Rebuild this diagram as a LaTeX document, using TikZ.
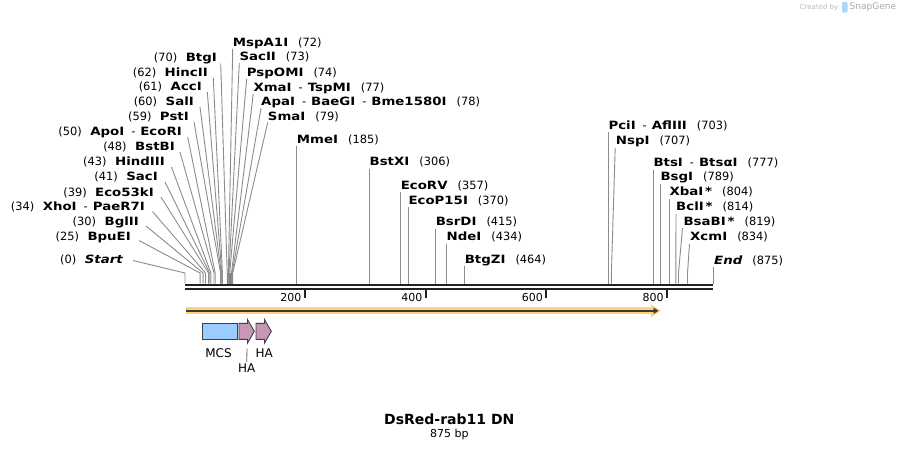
\documentclass[tikz,border=0pt]{standalone}
\usepackage{fontspec}
\setmainfont{DejaVu Sans}
\newfontfamily\bfenz{DejaVu Sans}[FakeStretch=1.17]
\usetikzlibrary{arrows.meta}
\definecolor{seqc}{HTML}{222222}
\definecolor{conncol}{HTML}{8C8C8C}
\definecolor{orfc}{HTML}{FFD27A}
\definecolor{orfline}{HTML}{3A3A3A}
\definecolor{mcsc}{HTML}{9ACCFF}
\definecolor{hac}{HTML}{C996B8}
\definecolor{wmc}{HTML}{BDBDBD}
\definecolor{wmlogo}{HTML}{A6D8F7}
\newcommand{\eb}[1]{{\bfenz\bfseries #1}}
\newcommand{\ebi}[1]{{\bfenz\bfseries\itshape #1}}
\newcommand{\dsep}{\hspace{7pt}-\hspace{5pt}}
\newcommand{\ngap}{\hspace{8.5pt}}
\newcommand{\rgap}{\hspace{10pt}}
\begin{document}
\begin{tikzpicture}[x=1pt,y=-1pt,
  lab/.style={inner sep=0pt, font=\fontsize{11.4}{13}\selectfont},
  labL/.style={lab, anchor=base east},
  labR/.style={lab, anchor=base west},
  conn/.style={draw=conncol, line width=0.9pt},
  tickmark/.style={draw=seqc, line width=2pt},
  ticklab/.style={inner sep=0pt, anchor=east, font=\fontsize{11}{13}\selectfont},
  feat/.style={draw=black!75, line width=0.9pt},
  flab/.style={inner sep=0pt, font=\fontsize{12}{14}\selectfont}
]
\useasboundingbox (0,0) rectangle (899,450);
\fill[white] (0,0) rectangle (899,450);

% sites: knee (k) and base (b)
\foreach \n/\x in {0/185,25/200.1,30/203.1,34/205.5,39/208.5,41/209.7,43/210.9,48/214,50/215.2,
  59/220.6,60/221.2,61/221.8,62/222.4,70/227.2,72/228.4,73/229.0,74/229.7,77/231.5,78/232.1,79/232.7,
  185/296.7,306/369.4,357/400.6,370/408.3,415/435.6,434/446.5,464/464.6,
  703/608.6,707/611.4,777/653.5,789/660.6,804/669.5,814/675.8,819/678.5,834/687.5,875/713}{
  \coordinate (k\n) at (\x,273);
  \coordinate (b\n) at (\x,283.5);
}

% left labels
\node[labL] (L70) at (217,61.3) {(70)\ngap\eb{BtgI}};
\node[labL] (L62) at (208,76.3) {(62)\ngap\eb{HincII}};
\node[labL] (L61) at (202,90.7) {(61)\ngap\eb{AccI}};
\node[labL] (L60) at (194,105.7) {(60)\ngap\eb{SalI}};
\node[labL] (L59) at (189,120.7) {(59)\ngap\eb{PstI}};
\node[labL] (L50) at (182,135.7) {(50)\ngap\eb{ApoI}\dsep\eb{EcoRI}};
\node[labL] (L48) at (175,150.7) {(48)\ngap\eb{BstBI}};
\node[labL] (L43) at (165,165.7) {(43)\ngap\eb{HindIII}};
\node[labL] (L41) at (158,180.7) {(41)\ngap\eb{SacI}};
\node[labL] (L39) at (154,196) {(39)\ngap\eb{Eco53kI}};
\node[labL] (L34) at (145,210.7) {(34)\ngap\eb{XhoI}\dsep\eb{PaeR7I}};
\node[labL] (L30) at (139,225.7) {(30)\ngap\eb{BglII}};
\node[labL] (L25) at (131,240.7) {(25)\ngap\eb{BpuEI}};
\node[labL] (L0) at (123,263.3) {(0)\ngap\ebi{Start}};

\coordinate (a70) at (220.7,63.5);
\coordinate (a62) at (213.3,78);
\coordinate (a61) at (207.3,92);
\coordinate (a60) at (200,107);
\coordinate (a59) at (194,122);
\coordinate (a50) at (187.7,137);
\coordinate (a48) at (180,152);
\coordinate (a43) at (171.5,167);
\coordinate (a41) at (165,182);
\coordinate (a39) at (161,197);
\coordinate (a34) at (152.5,211.5);
\coordinate (a30) at (146,226);
\coordinate (a25) at (139,240.5);
\coordinate (a0) at (133,260.5);

% top cluster labels
\node[labR] (L72) at (232.7,46.3) {\eb{MspA1I}\rgap(72)};
\node[labR] (L73) at (239.3,60.7) {\eb{SacII}\rgap(73)};
\node[labR] (L74) at (246.7,76.3) {\eb{PspOMI}\rgap(74)};
\node[labR] (L77) at (253.3,91.3) {\eb{XmaI}\dsep\eb{TspMI}\rgap(77)};
\node[labR] (L78) at (261,105.7) {\eb{ApaI}\dsep\eb{BaeGI}\dsep\eb{Bme1580I}\rgap(78)};
\node[labR] (L79) at (267.7,120) {\eb{SmaI}\rgap(79)};
\coordinate (a72) at (232.7,48.8);
\coordinate (a73) at (239.3,63.2);
\coordinate (a74) at (246.7,78.8);
\coordinate (a77) at (253.3,93.8);
\coordinate (a78) at (261,108.2);
\coordinate (a79) at (267.7,122.5);

% middle labels
\node[labR] (L185) at (296.7,143) {\eb{MmeI}\rgap(185)};
\node[labR] (L306) at (369.4,165.7) {\eb{BstXI}\rgap(306)};
\node[labR] (L357) at (400.6,189) {\eb{EcoRV}\rgap(357)};
\node[labR] (L370) at (408.3,204) {\eb{EcoP15I}\rgap(370)};
\node[labR] (L415) at (435.6,225.7) {\eb{BsrDI}\rgap(415)};
\node[labR] (L434) at (446.5,240.7) {\eb{NdeI}\rgap(434)};
\node[labR] (L464) at (464.6,263.3) {\eb{BtgZI}\rgap(464)};
\coordinate (a185) at (296.7,146);
\coordinate (a306) at (369.4,168.7);
\coordinate (a357) at (400.6,192);
\coordinate (a370) at (408.3,207);
\coordinate (a415) at (435.6,228.7);
\coordinate (a434) at (446.5,243.7);
\coordinate (a464) at (464.6,266.3);

% right labels
\node[labR] (L703) at (608.3,129) {\eb{PciI}\dsep\eb{AflIII}\rgap(703)};
\node[labR] (L707) at (615.7,144.7) {\eb{NspI}\rgap(707)};
\node[labR] (L777) at (653.3,166.3) {\eb{BtsI}\dsep\eb{BtsαI}\rgap(777)};
\node[labR] (L789) at (660.3,180.7) {\eb{BsgI}\rgap(789)};
\node[labR] (L804) at (669.3,195.7) {\eb{XbaI\,*}\rgap(804)};
\node[labR] (L814) at (676,210.7) {\eb{BclI\,*}\rgap(814)};
\node[labR] (L819) at (683.3,225) {\eb{BsaBI\,*}\rgap(819)};
\node[labR] (L834) at (690,240.7) {\eb{XcmI}\rgap(834)};
\node[labR] (L875) at (714,264) {\ebi{End}\hspace{10pt}(875)};
\coordinate (a703) at (608.6,132);
\coordinate (a707) at (615.2,148);
\coordinate (a777) at (653.5,169.5);
\coordinate (a789) at (660.6,184);
\coordinate (a804) at (669.5,199);
\coordinate (a814) at (676,214);
\coordinate (a819) at (682.5,228);
\coordinate (a834) at (689.5,244);
\coordinate (a875) at (713,267);

% connectors
\fill[conncol!90!black] (227.4,273) rectangle (233.2,283.5);
\foreach \n in {0,25,30,34,39,41,43,48,50,59,60,61,62,70,72,73,74,77,78,79,
  185,306,357,370,415,434,464,703,707,777,789,804,814,819,834,875}{
  \draw[conn] (a\n) -- (k\n) -- (b\n);
}

% sequence line
\coordinate (seqA) at (185,285);
\coordinate (seqB) at (713,285);
\draw[draw=seqc, line width=2.6pt] (seqA) -- (seqB);
\draw[draw=seqc, line width=2pt] ([yshift=-4.3pt]seqA) -- ([yshift=-4.3pt]seqB);

% ticks
\foreach \v/\x in {200/304.5,400/425.5,600/546,800/666.8}{
  \draw[tickmark] (\x,290) -- (\x,297.5);
  \node[ticklab] (t\v) at (\x-3,297) {\v};
}

% ORF arrow
\coordinate (orfA) at (186,310.8);
\coordinate (orfB) at (653,310.8);
\draw[draw=orfc, line width=7pt] (orfA) -- (orfB);
\fill[orfc] (651,304.5) -- (661,310.8) -- (651,317.1) -- cycle;
\draw[draw=orfline, line width=2.2pt, -{Triangle[length=5pt,width=6pt]}] (orfA) -- (658.5,310.8);

% features
\draw[feat, fill=mcsc] (202.3,323.3) rectangle (237.7,339.3);
\draw[feat, fill=hac] (239,323.3) -- (247.5,323.3) -- (247.5,319.5) -- (254.3,331.3) -- (247.5,343.1) -- (247.5,339.3) -- (239,339.3) -- cycle;
\draw[feat, fill=hac] (256,323.3) -- (264.5,323.3) -- (264.5,319.5) -- (271.3,331.3) -- (264.5,343.1) -- (264.5,339.3) -- (256,339.3) -- cycle;
\node[flab] (lmcs) at (218.5,352.7) {MCS};
\node[flab] (lha2) at (264.3,352.7) {HA};
\node[flab] (lha1) at (246.7,368.5) {HA};
\coordinate (ha1top) at (247,348.5);
\draw[draw=black!60, line width=0.8pt] (ha1top) -- ([yshift=1.5pt]lha1.north);

% title
\node[inner sep=0, font=\fontsize{14}{16}\selectfont\bfseries] (title) at (449.3,419) {DsRed-rab11 DN};
\node[inner sep=0, font=\fontsize{11}{13}\selectfont] (len) at (449.3,434.3) {875 bp};

% watermark
\node[inner sep=0, anchor=east, text=wmc, font=\fontsize{7}{8}\selectfont] (wm1) at (838.5,7.5) {Created by};
\fill[wmlogo, rounded corners=1.2pt] (842,2) rectangle (847.5,12.5);
\node[inner sep=0, anchor=west, text=wmc!90!black, font=\fontsize{9}{10}\selectfont] (wm2) at (849.5,7.5) {SnapGene};
\end{tikzpicture}
\end{document}
